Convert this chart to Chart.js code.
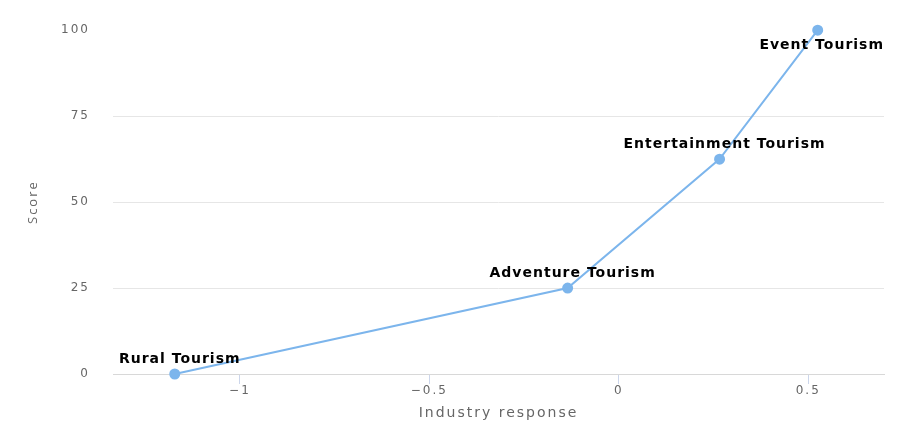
<!DOCTYPE html>
<html>
<head>
<meta charset="utf-8">
<script src="https://cdn.jsdelivr.net/npm/chart.js@4/dist/chart.umd.min.js"></script>
<style>
  html, body { margin: 0; padding: 0; background: #fff; }
  #wrap { width: 898px; height: 446px; }
</style>
</head>
<body>
<div id="wrap"><canvas id="scoreChart"></canvas></div>
<script>
// data
const names = ['Rural Tourism', 'Adventure Tourism', 'Entertainment Tourism', 'Event Tourism'];
const response = [-1.172, -0.135, 0.266, 0.525];
const scores = [0, 25, 62.5, 100];

const FONT = "'DejaVu Sans', Verdana, sans-serif";

// wider letter spacing for axis texts, like the original render
const spacing = {
  id: 'spacing',
  beforeDraw(chart) { chart.ctx.letterSpacing = '2px'; }
};

// labels over each point, kept inside the plot like the original
const pointLabels = {
  id: 'pointLabels',
  afterDatasetsDraw(chart) {
    const ctx = chart.ctx;
    const area = chart.chartArea;
    const meta = chart.getDatasetMeta(0);
    ctx.save();
    ctx.letterSpacing = '1px';
    ctx.font = 'bold 14px ' + FONT;
    ctx.fillStyle = '#000';
    ctx.textBaseline = 'middle';
    ctx.textAlign = 'center';
    meta.data.forEach((pt, i) => {
      const txt = names[i];
      const w = ctx.measureText(txt).width;
      let x = pt.x + 5;
      let y = pt.y - 15;
      if (y - 8 < area.top) y = pt.y + 15;
      if (x + w / 2 > area.right) x = area.right - w / 2;
      ctx.fillText(txt, x, y);
    });
    ctx.restore();
  }
};

const CHART = document.getElementById('scoreChart');
let scoreChart = new Chart(CHART, {
  type: 'scatter',
  data: {
    datasets: [{
      label: 'Score',
      data: response.map((r, i) => ({ x: r, y: scores[i] })),
      showLine: true,
      clip: false,
      borderColor: '#7cb5ec',
      backgroundColor: '#7cb5ec',
      borderWidth: 2,
      pointRadius: 4.5,
      pointHoverRadius: 5,
      tension: 0
    }]
  },
  options: {
    responsive: true,
    maintainAspectRatio: false,
    animation: false,
    layout: { padding: { left: 0, right: 14, top: 29, bottom: 0 } },
    plugins: {
      legend: { display: false },
      tooltip: { enabled: false }
    },
    scales: {
      x: {
        type: 'linear',
        min: -1.335,
        max: 0.7,
        afterFit(scale) { scale.height = 72; },
        border: { display: true, color: '#d8d8d8' },
        grid: { drawOnChartArea: false, drawTicks: true, tickLength: 10, color: '#ccd6eb' },
        ticks: {
          stepSize: 0.5,
          includeBounds: false,
          padding: 0,
          color: '#666',
          font: { family: FONT, size: 12 },
          callback: v => String(v).replace('-', '\u2212')
        },
        title: {
          display: true,
          text: 'Industry response',
          color: '#666',
          font: { family: FONT, size: 14 },
          padding: { top: 0, bottom: 24 }
        }
      },
      y: {
        min: 0,
        max: 100,
        afterFit(scale) { scale.width = 113; },
        border: { display: false },
        grid: {
          drawTicks: false,
          color: ctx => (ctx.tick && ctx.tick.value === 100) ? 'rgba(0,0,0,0)' : '#e6e6e6'
        },
        ticks: {
          stepSize: 25,
          padding: 23,
          color: '#666',
          font: { family: FONT, size: 12 }
        },
        title: {
          display: true,
          text: 'Score',
          color: '#666',
          font: { family: "'Open Sans', sans-serif", size: 13 },
          padding: { top: 25, bottom: 0 }
        }
      }
    }
  },
  plugins: [spacing, pointLabels]
});
</script>
</body>
</html>
